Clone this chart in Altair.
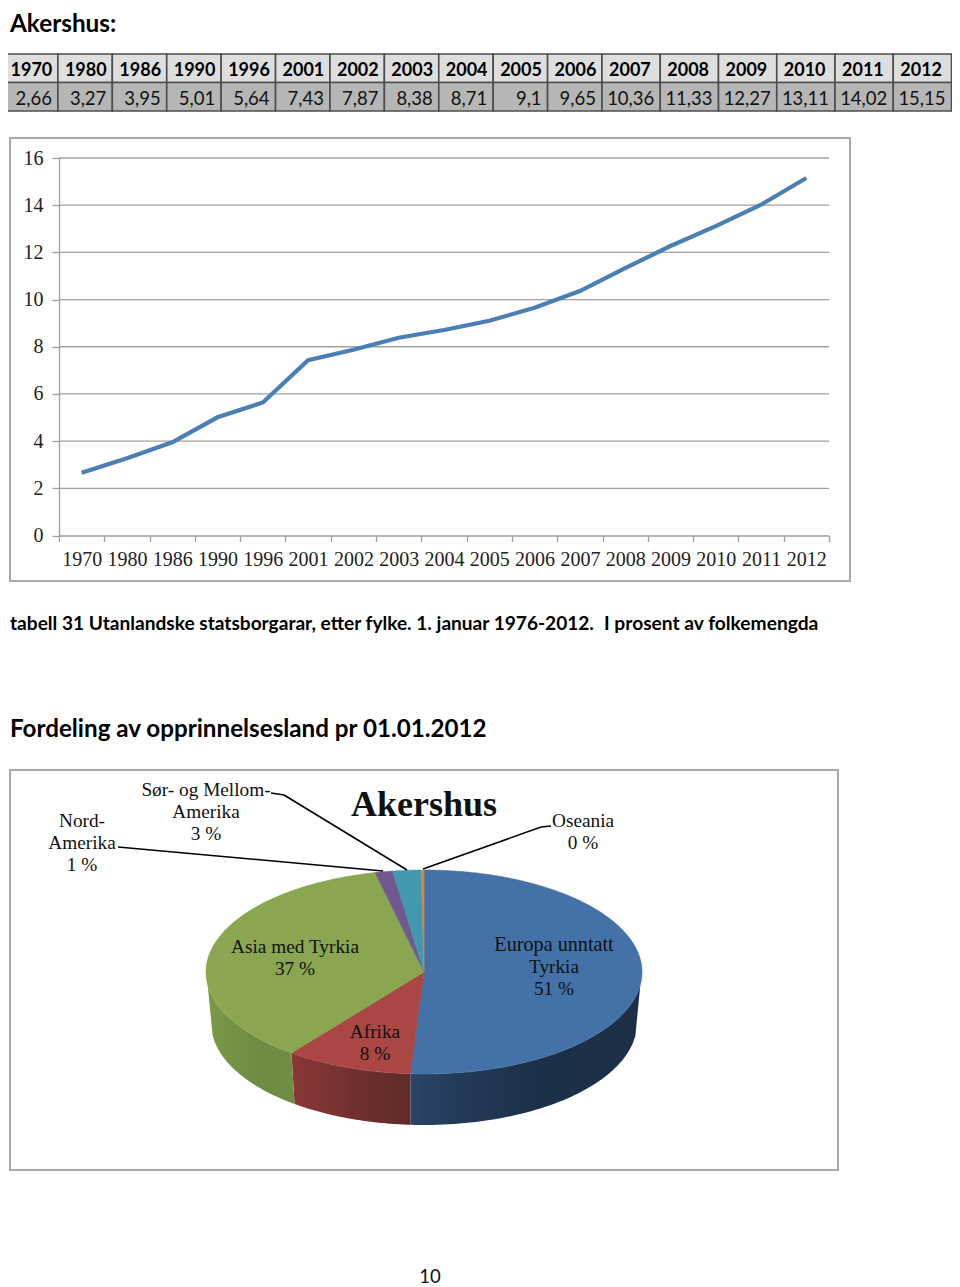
import numpy as np
import pandas as pd
import altair as alt

years = ["1970","1980","1986","1990","1996","2001","2002","2003","2004","2005","2006","2007","2008","2009","2010","2011","2012"]
value_labels = ["2,66","3,27","3,95","5,01","5,64","7,43","7,87","8,38","8,71","9,1","9,65","10,36","11,33","12,27","13,11","14,02","15,15"]
y_ticks = [0,2,4,6,8,10,12,14,16]
pie_names = ["Europa unntatt Tyrkia","Afrika","Asia med Tyrkia","Nord-Amerika","Sør- og Mellom-Amerika","Oseania"]
pie_shares = [51.0,9.4,36.0,1.3,2.1,0.2]
pie_colors = ["#4472a8","#aa4644","#8aa650","#71588f","#4198af","#db843d"]

SANS = "Lato"
SERIF = "Liberation Serif"
W, H = 944, 1279
one = alt.Data(values=[{"a": 1}])

def px(v): return alt.value(v - 8)

def label(s, x, y, size=19.3, font=SERIF, weight="normal", align="center", color="#111111"):
    return alt.Chart(one).mark_text(font=font, fontSize=size, fontWeight=weight, align=align,
                                    baseline="alphabetic", color=color).encode(
        x=px(x), y=px(y), text=alt.value(s))

def seg(x1, y1, x2, y2, color="#000000", width=1.6):
    return alt.Chart(one).mark_rule(color=color, strokeWidth=width).encode(
        x=px(x1), y=px(y1), x2=px(x2), y2=px(y2))

def frame(x1, y1, x2, y2):
    return alt.Chart(one).mark_rect(fillOpacity=0, stroke="#a8a8a8", strokeWidth=2).encode(
        x=px(x1), y=px(y1), x2=px(x2), y2=px(y2))

layers = []

# ---- heading
layers.append(label("Akershus:", 10, 32, 24.3, SANS, "bold", "left", "#000000"))

# ---- table, two runs of equally wide columns
table = pd.DataFrame({"year": years, "val": value_labels})

def table_run(df, x0, x1):
    xs = alt.Scale(type="band", domain=list(df.year), range=[x0 - 8, x1 - 8], paddingInner=0, paddingOuter=0)
    ys = alt.Scale(type="band", domain=["h", "v"], range=[54 - 8, 111 - 8], paddingInner=0, paddingOuter=0)
    d = pd.concat([df.assign(row="h", fillc="#dedede"), df.assign(row="v", fillc="#b6b6b6")])
    out = []
    out.append(alt.Chart(d).mark_rect(stroke="#4d4d4d", strokeWidth=1.6).encode(
        x=alt.X("year:N", scale=xs, axis=None),
        y=alt.Y("row:N", scale=ys, axis=None),
        fill=alt.Fill("fillc:N", scale=None)))
    out.append(alt.Chart(df.assign(row="h")).mark_text(font=SANS, fontSize=18, fontWeight="bold", align="left",
                                                       dx=7, dy=3, color="#000000").encode(
        x=alt.X("year:N", scale=xs, axis=None, bandPosition=0),
        y=alt.Y("row:N", scale=ys, axis=None),
        text="year:N"))
    out.append(alt.Chart(df.assign(row="v")).mark_text(font=SANS, fontSize=18.5, align="right",
                                                       dx=-6, dy=2, color="#111111").encode(
        x=alt.X("year:N", scale=xs, axis=None, bandPosition=1),
        y=alt.Y("row:N", scale=ys, axis=None),
        text="val:N"))
    return out

layers += table_run(table.iloc[:11], 3.5, 602)
layers += table_run(table.iloc[11:], 602, 951.5)

# ---- line chart
layers.append(frame(10, 138, 850, 581))
X0, X1, Y0, Y16 = 59, 829, 535.5, 158
line_x = alt.Scale(type="band", domain=years, range=[X0 - 8, X1 - 8], paddingInner=0, paddingOuter=0)
line_y = alt.Scale(type="linear", domain=[0, 16], range=[Y0 - 8, Y16 - 8], nice=False, zero=True)
layers.append(alt.Chart(pd.DataFrame({"t": y_ticks[1:]})).mark_rule(color="#a0a0a0", strokeWidth=1.3).encode(
    x=px(X0), x2=px(X1), y=alt.Y("t:Q", scale=line_y, axis=None)))
line_df = pd.DataFrame({"year": years, "v": [float(s.replace(",", ".")) for s in value_labels]})
layers.append(alt.Chart(line_df).mark_line(color="#4a7eb5", strokeWidth=4.2).encode(
    x=alt.X("year:N", scale=line_x, title=None, axis=alt.Axis(
        orient="bottom", offset=-(H - (Y0 - 8)), tickBand="extent", labelAngle=0, domainColor="#a0a0a0",
        domainWidth=1.3, tickColor="#a0a0a0", tickWidth=1.3, tickSize=6, labelFont=SERIF, labelFontSize=20,
        labelColor="#222222", labelPadding=8, grid=False, labelOverlap=False, zindex=1)),
    y=alt.Y("v:Q", scale=line_y, title=None, axis=alt.Axis(
        orient="left", offset=-(X0 - 8), values=y_ticks, domainColor="#a0a0a0", domainWidth=1.3,
        tickColor="#a0a0a0", tickWidth=1.3, tickSize=7, labelFont=SERIF, labelFontSize=20,
        labelColor="#222222", labelPadding=9, grid=False, labelFlush=False, labelOverlap=False, zindex=1)),
    order="year:N"))

# ---- captions
layers.append(label("tabell 31 Utanlandske statsborgarar, etter fylke. 1. januar 1976-2012.", 10, 630, 19.1, SANS, "bold", "left", "#000000"))
layers.append(label("I prosent av folkemengda", 604, 630, 19.2, SANS, "bold", "left", "#000000"))
layers.append(label("Fordeling av opprinnelsesland pr 01.01.2012", 10, 737, 24.2, SANS, "bold", "left", "#000000"))

# ---- 3-D pie: shares are turned into outlines in unit coordinates
layers.append(frame(10, 770, 838, 1170))
CX, CY, RX, RY = 424, 972, 218, 102
DEPTH = 51 / RY
SHRINK = 0.977
pie_xs = alt.Scale(type="linear", domain=[-1, 1], range=[CX - RX - 8, CX + RX - 8], nice=False, zero=False)
pie_ys = alt.Scale(type="linear", domain=[-1, 1], range=[CY + RY - 8, CY - RY - 8], nice=False, zero=False)

def outline(xv, yv, fill, stroke=True):
    d = pd.DataFrame({"x": xv, "y": yv, "i": np.arange(len(xv))})
    return alt.Chart(d).mark_line(fill=fill, stroke=(fill if stroke else "#000000"),
                                  strokeWidth=(0.6 if stroke else 0), strokeOpacity=(1 if stroke else 0)).encode(
        x=alt.X("x:Q", scale=pie_xs, axis=None),
        y=alt.Y("y:Q", scale=pie_ys, axis=None),
        order=alt.Order("i:Q"))

def wall(a0, a1, fill):
    t = np.radians(np.linspace(a0, a1, 60))
    xt, yt = np.sin(t), np.cos(t)
    xv = np.concatenate([xt, SHRINK * xt[::-1], xt[:1]])
    yv = np.concatenate([yt, yt[::-1] - DEPTH, yt[:1]])
    return outline(xv, yv, fill, stroke=False)

def grad(*stops):
    return alt.Gradient(gradient="linear", x1=0, x2=1, y1=0, y2=0,
                        stops=[alt.GradientStop(offset=o, color=c) for o, c in stops])

edges = np.concatenate([[0], np.cumsum(pie_shares)]) / np.sum(pie_shares) * 360
layers.append(wall(97, edges[1], grad((0, "#2b4568"), (0.2, "#233a5a"), (0.55, "#1d3049"), (1, "#1c2f47"))))
layers.append(wall(edges[1], edges[2], grad((0, "#8a3836"), (0.5, "#732f30"), (1, "#5f2b2a"))))
layers.append(wall(edges[2], 263, grad((0, "#7b9a48"), (0.6, "#6f8a42"), (1, "#718c45"))))
for a0, a1, c in zip(edges[:-1], edges[1:], pie_colors):
    t = np.radians(np.linspace(a0, a1, max(4, int(a1 - a0) * 2)))
    layers.append(outline(np.concatenate([[0], np.sin(t), [0]]), np.concatenate([[0], np.cos(t), [0]]), c))

# ---- pie labels and leaders
layers.append(seg(118, 847, 383, 871))
layers.append(seg(271, 793, 284, 795))
layers.append(seg(284, 795, 407, 870))
layers.append(seg(551, 826, 541, 827))
layers.append(seg(541, 827, 423, 869))
layers.append(label("Akershus", 424, 816, 36, SERIF, "bold"))
for s, x, y in [("Nord-", 82, 827), ("Amerika", 82, 849), ("1 %", 82, 871),
                ("Sør- og Mellom-", 206, 796), ("Amerika", 206, 818), ("3 %", 206, 840),
                ("Oseania", 583, 827), ("0 %", 583, 849),
                ("Asia med Tyrkia", 295, 953), ("37 %", 295, 975),
                ("Afrika", 375, 1038), ("8 %", 375, 1060),
                ("Tyrkia", 554, 973), ("51 %", 554, 995)]:
    layers.append(label(s, x, y))
layers.append(label("Europa unntatt", 554, 951, 20.2))

layers.append(label("10", 430, 1283, 18.5, SANS, "normal", "center", "#111111"))

chart = alt.layer(*layers).resolve_scale(x="independent", y="independent").properties(
    width=W, height=H, padding=0, background="#ffffff",
    autosize=alt.AutoSizeParams(type="none")
).configure_view(stroke=None)

chart.save("out.html", embed_options={"renderer": "svg", "actions": False})
